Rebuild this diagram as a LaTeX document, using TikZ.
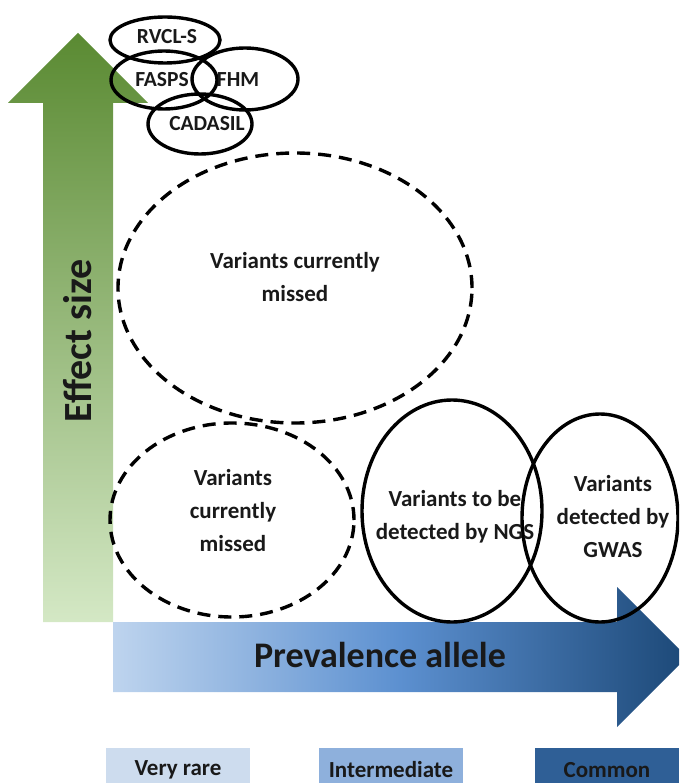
\documentclass[tikz,border=0pt]{standalone}
\usepackage{fontspec}
\setmainfont{Carlito}
\usepackage{tikz}
\usetikzlibrary{shapes,positioning}

\definecolor{effdark}{HTML}{5A8A32}
\definecolor{efflight}{HTML}{D4E8C5}
\definecolor{prevlight}{HTML}{BED4EE}
\definecolor{prevmid}{HTML}{5C90D0}
\definecolor{prevdark}{HTML}{1C4877}
\definecolor{rarefill}{HTML}{CDDCEE}
\definecolor{interfill}{HTML}{8EB0DC}
\definecolor{commonfill}{HTML}{2F5F96}

\begin{document}
\begin{tikzpicture}[x=1pt,y=-1pt,
  solidring/.style={draw,ellipse,line width=3.4pt,inner sep=0pt},
  dashring/.style={draw,ellipse,line width=3.4pt,dash pattern=on 13pt off 8pt,inner sep=0pt},
  disease/.style={font=\bfseries\fontsize{21.5}{24}\selectfont,text=black!90},
  varlbl/.style={font=\bfseries\fontsize{23}{33}\selectfont,align=center,text=black!90},
  legendbox/.style={fill=#1,minimum width=144pt,minimum height=44pt,inner sep=0pt,
    font=\bfseries\fontsize{23}{26}\selectfont,text=black!90}
]
\useasboundingbox (0,0) rectangle (679,783);
\clip (0,0) rectangle (679,783);

\shade[top color=effdark,bottom color=efflight]
  (43,622) -- (43,103) -- (8,103) -- (78,33) -- (148,103) -- (113,103) -- (113,622) -- cycle;
\shade[left color=prevlight,right color=prevdark,middle color=prevmid]
  (113,622) -- (617,622) -- (617,587) -- (687,657) -- (617,727) -- (617,692) -- (113,692) -- cycle;

\node[rotate=90,font=\bfseries\fontsize{40}{44}\selectfont,text=black!90] (effect) at (78,341) {Effect size};
\node[font=\bfseries\fontsize{36}{40}\selectfont,text=black!90] (prevalence) at (380,655) {Prevalence allele};

\node[solidring,minimum width=110pt,minimum height=46pt] (rvcl) at (165,40) {};
\node[solidring,minimum width=106pt,minimum height=58pt] (fasps) at (164,80) {};
\node[solidring,minimum width=106pt,minimum height=62pt] (fhm) at (245,79) {};
\node[solidring,minimum width=104pt,minimum height=60pt] (cadasil) at (200,124) {};
\node[disease] (rvcltext) at (167,37) {RVCL-S};
\node[disease] (faspstext) at (162,80) {FASPS};
\node[disease] (fhmtext) at (238,80) {FHM};
\node[disease] (cadasiltext) at (207,124) {CADASIL};

\node[dashring,minimum width=354pt,minimum height=270pt] (missedhigh) at (295,288) {};
\node[dashring,minimum width=244pt,minimum height=194pt] (missedlow) at (232,520) {};
\node[solidring,minimum width=180pt,minimum height=222pt] (ngs) at (452,511) {};
\node[solidring,minimum width=156pt,minimum height=208pt] (gwas) at (600,518) {};

\node[varlbl] (missedhightext) at (295,277) {Variants currently\\missed};
\node[varlbl] (missedlowtext) at (233,511) {Variants\\currently\\missed};
\node[varlbl] (ngstext) at (455,517) {Variants to be\\detected by NGS};
\node[varlbl] (gwastext) at (613,517) {Variants\\detected by\\GWAS};

\node[legendbox=rarefill] (veryrare) at (178,770) {Very rare};
\node[legendbox=interfill] (intermediate) at (391,770) {Intermediate};
\node[legendbox=commonfill] (common) at (607,770) {Common};

\end{tikzpicture}
\end{document}
